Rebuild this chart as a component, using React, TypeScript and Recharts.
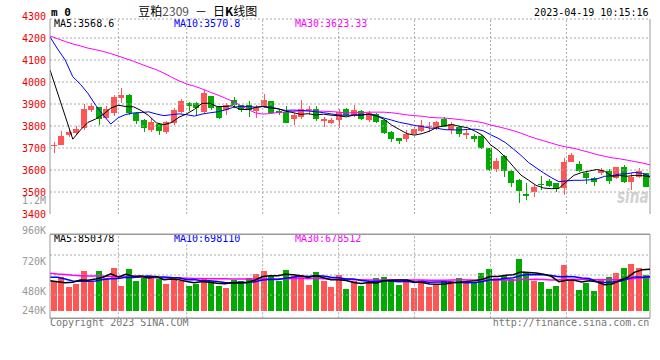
import React from 'react';
import { ComposedChart, Bar, Line, XAxis, YAxis, ReferenceLine } from 'recharts';

const DATES = [
  '12-20','12-21','12-22','12-23','12-26','12-27','12-28','12-29','12-30',
  '01-03','01-04','01-05','01-06','01-09','01-10','01-11','01-12','01-13',
  '01-16','01-17','01-18','01-19','01-20',
  '01-30','01-31','02-01','02-02','02-03',
  '02-06','02-07','02-08','02-09','02-10',
  '02-13','02-14','02-15','02-16','02-17',
  '02-20','02-21','02-22','02-23','02-24',
  '02-27','02-28','03-01','03-02','03-03',
  '03-06','03-07','03-08','03-09','03-10',
  '03-13','03-14','03-15','03-16','03-17',
  '03-20','03-21','03-22','03-23','03-24',
  '03-27','03-28','03-29','03-30','03-31',
  '04-03','04-04','04-06','04-07',
  '04-10','04-11','04-12','04-13','04-14',
  '04-17','04-18','04-19',
];

const OPEN = [
  3712, 3714, 3760, 3770, 3789, 3873, 3885, 3835, 3858, 3929,
  3941, 3861, 3827, 3782, 3809, 3774, 3812, 3865, 3903, 3906,
  3865, 3936, 3888, 3873, 3918, 3895, 3895, 3868, 3888, 3912,
  3870, 3865, 3832, 3842, 3874, 3876, 3823, 3814, 3827, 3876,
  3850, 3868, 3827, 3855, 3827, 3774, 3745, 3741, 3764, 3777,
  3797, 3789, 3830, 3782, 3797, 3759, 3755, 3755, 3699, 3605,
  3664, 3597, 3555, 3491, 3502, 3538, 3552, 3539, 3517, 3638,
  3627, 3588, 3562, 3585, 3595, 3562, 3615, 3547, 3570, 3585,
];
const HIGH = [
  3729, 3779, 3780, 3800, 3900, 3906, 3887, 3891, 3941, 3971,
  3944, 3864, 3830, 3835, 3812, 3821, 3883, 3921, 3911, 3908,
  3964, 3938, 3890, 3906, 3933, 3897, 3914, 3895, 3945, 3915,
  3873, 3891, 3858, 3918, 3893, 3891, 3842, 3836, 3876, 3880,
  3895, 3873, 3868, 3861, 3830, 3776, 3747, 3782, 3797, 3827,
  3820, 3823, 3842, 3820, 3800, 3782, 3764, 3760, 3702, 3653,
  3667, 3600, 3558, 3539, 3532, 3573, 3559, 3542, 3656, 3676,
  3642, 3592, 3567, 3611, 3603, 3615, 3623, 3585, 3608, 3588,
];
const LOW = [
  3679, 3712, 3752, 3759, 3782, 3865, 3805, 3830, 3845, 3903,
  3850, 3809, 3774, 3774, 3759, 3764, 3805, 3861, 3870, 3850,
  3861, 3873, 3830, 3850, 3888, 3862, 3842, 3838, 3883, 3858,
  3850, 3812, 3805, 3830, 3850, 3823, 3797, 3809, 3789, 3845,
  3842, 3827, 3817, 3815, 3764, 3729, 3718, 3729, 3759, 3771,
  3774, 3782, 3795, 3764, 3752, 3741, 3729, 3694, 3597, 3592,
  3570, 3524, 3449, 3464, 3479, 3509, 3524, 3502, 3486, 3635,
  3592, 3536, 3527, 3577, 3536, 3558, 3542, 3509, 3562, 3521,
];
const CLOSE = [
  3715, 3755, 3773, 3788, 3876, 3891, 3830, 3876, 3933, 3942,
  3861, 3824, 3792, 3818, 3777, 3818, 3873, 3915, 3892, 3880,
  3952, 3880, 3837, 3895, 3895, 3873, 3873, 3883, 3918, 3861,
  3861, 3815, 3850, 3876, 3878, 3832, 3833, 3827, 3865, 3850,
  3873, 3830, 3858, 3820, 3770, 3741, 3732, 3764, 3785, 3805,
  3800, 3820, 3797, 3809, 3764, 3770, 3741, 3699, 3600, 3641,
  3597, 3542, 3506, 3483, 3523, 3536, 3527, 3512, 3638, 3668,
  3597, 3562, 3547, 3600, 3552, 3612, 3547, 3567, 3595, 3524,
];

const MA5 = [
  4055, 3950, 3845, 3740, 3781.4, 3816.6, 3831.6, 3852.2, 3881.2, 3894.4,
  3888.4, 3887.2, 3870.4, 3847.4, 3814.4, 3805.8, 3815.6, 3840.2, 3855, 3875.6,
  3902.4, 3903.8, 3888.2, 3888.8, 3891.8, 3876, 3874.6, 3883.8, 3888.4, 3881.6,
  3879.2, 3867.6, 3861, 3852.6, 3856, 3850.2, 3853.8, 3849.2, 3847, 3841.4,
  3849.6, 3849, 3855.2, 3846.2, 3830.2, 3803.8, 3784.2, 3765.4, 3758.4, 3765.4,
  3777.2, 3794.8, 3801.4, 3806.2, 3798, 3792, 3776.2, 3756.6, 3714.8, 3690.2,
  3655.6, 3615.8, 3577.2, 3553.8, 3530.2, 3518, 3515, 3516.2, 3547.2, 3576.2,
  3588.4, 3595.4, 3602.4, 3594.8, 3571.6, 3574.6, 3571.6, 3575.6, 3574.6, 3568.6,
];
const MA10 = [
  4205, 4150, 4100, 4024, 3990, 3948, 3895, 3850, 3809, 3837.9,
  3852.5, 3859.4, 3861.3, 3864.3, 3854.4, 3847.1, 3851.4, 3855.3, 3851.2, 3845,
  3854.1, 3859.7, 3864.2, 3871.9, 3883.7, 3889.2, 3889.2, 3886, 3888.6, 3886.7,
  3877.6, 3871.1, 3872.4, 3870.5, 3868.8, 3864.7, 3860.7, 3855.1, 3849.8, 3848.7,
  3849.9, 3851.4, 3852.2, 3846.6, 3835.8, 3826.7, 3816.6, 3810.3, 3802.3, 3797.8,
  3790.5, 3789.5, 3783.4, 3782.3, 3781.7, 3784.6, 3785.5, 3779, 3760.5, 3744.1,
  3723.8, 3696, 3666.9, 3634.3, 3610.2, 3586.8, 3565.4, 3546.7, 3550.5, 3553.2,
  3553.2, 3555.2, 3559.3, 3571, 3573.9, 3581.5, 3583.5, 3589, 3584.7, 3570.8,
];
const MA30 = [
  4209, 4197, 4184, 4173, 4164, 4154, 4147, 4139, 4129, 4118,
  4106, 4094, 4081, 4068, 4056, 4040, 4022, 4005, 3991, 3981,
  3969, 3955, 3942, 3928, 3913, 3895, 3877, 3860, 3854, 3856.5,
  3861.4, 3863.4, 3866, 3868.9, 3869, 3867, 3867.1, 3865.5, 3863.2, 3860.1,
  3860.5, 3860.7, 3862.9, 3863, 3862.8, 3860.2, 3855.5, 3850.5, 3846.9, 3844.4,
  3839.3, 3837.3, 3836, 3833.1, 3828.8, 3825.3, 3820.9, 3814.8, 3804.2, 3796.9,
  3788.1, 3779, 3767.5, 3754.4, 3742.6, 3732.7, 3722.5, 3712, 3704.4, 3698.4,
  3689.2, 3680.2, 3669.9, 3662.5, 3655.3, 3651, 3644.8, 3638.2, 3631.9, 3623.33,
];

// volume in thousands (K)
const VOLUME = [
  601, 690, 492, 540, 820, 587, 820, 669, 881, 512,
  861, 615, 683, 683, 656, 540, 697, 601, 499, 540,
  649, 615, 499, 471, 635, 608, 676, 758, 820, 717,
  608, 840, 703, 724, 533, 799, 615, 492, 738, 451,
  601, 512, 587, 676, 697, 656, 533, 594, 471, 635,
  492, 526, 615, 601, 676, 587, 594, 779, 861, 676,
  717, 656, 1065, 799, 615, 594, 451, 512, 943, 615,
  430, 574, 410, 635, 697, 779, 881, 963, 881, 738,
];
const VMA5 = [
  615, 594, 574, 585, 628.6, 625.8, 651.8, 687.2, 755.4, 693.8,
  748.6, 707.6, 710.4, 670.8, 699.6, 635.4, 651.8, 635.4, 598.6, 575.4,
  597.2, 580.8, 560.4, 554.8, 573.8, 565.6, 577.8, 629.6, 699.4, 715.8,
  715.8, 748.6, 737.6, 718.4, 681.6, 719.8, 674.8, 632.6, 635.4, 619,
  579.4, 558.8, 577.8, 565.4, 614.6, 625.6, 629.8, 631.2, 590.2, 577.8,
  545, 543.6, 547.8, 573.8, 582, 601, 614.6, 647.4, 699.4, 699.4,
  725.4, 737.8, 795, 782.6, 770.4, 745.8, 704.8, 594.2, 623, 623,
  590.2, 614.8, 594.4, 532.8, 549.2, 619, 680.4, 791, 840.2, 850.378,
];
const VMA10 = [
  684, 684, 650, 610, 605, 603, 607, 640, 655, 661.2,
  687.2, 679.7, 698.8, 713.1, 696.7, 692, 679.7, 672.9, 634.7, 637.5,
  616.3, 616.3, 597.9, 576.7, 574.6, 581.4, 579.3, 595, 627.1, 644.8,
  640.7, 663.2, 683.6, 708.9, 698.7, 717.8, 711.7, 685.1, 676.9, 650.3,
  649.6, 616.8, 605.2, 600.4, 616.8, 602.5, 594.3, 604.5, 577.8, 596.2,
  585.3, 586.7, 589.5, 582, 579.9, 573, 579.1, 597.6, 636.6, 640.7,
  663.2, 676.2, 721.2, 741, 734.9, 735.6, 721.3, 694.6, 702.8, 696.7,
  668, 659.8, 594.3, 577.9, 586.1, 604.6, 647.6, 692.7, 686.5, 698.11,
];
const VMA30 = [
  766, 750, 740, 725, 717, 712, 710, 705, 700, 695,
  690, 687, 684, 680, 677, 674, 671, 668, 665, 662,
  660, 657, 655, 653, 651, 650, 649, 648, 648, 647.8,
  648.1, 653.1, 660.1, 666.2, 656.7, 663.7, 656.9, 651, 646.2, 644.2,
  635.5, 632.1, 628.9, 628.7, 630, 633.9, 628.4, 628.2, 627.3, 630.4,
  625.2, 622.2, 626.1, 630.4, 631.8, 631.1, 628.4, 629.1, 630.4, 629.1,
  632.7, 626.6, 638.6, 641.1, 643.9, 637, 631.6, 632.2, 639.1, 644.5,
  638.8, 640.9, 635, 633.6, 633.6, 637.7, 649.3, 661.6, 675.3, 678.512,
];

const DATE_TICKS = [0, 9, 18, 28, 38, 48, 58, 68, 77];
const GRID_X = [9, 18, 28, 38, 48, 58, 68];
const PRICE_TICKS = [3400, 3500, 3600, 3700, 3800, 3900, 4000, 4100, 4200, 4300];
const PRICE_GRID = [3500, 3600, 3700, 3800, 3900, 4000, 4100, 4200];
const VOL_LABEL_TICKS = [240, 480, 720, 960, 1200];
const VOL_GRID = [1141.6, 731.6, 321.6];

const PRICE_LEGEND = ['MA5:3568.6', 'MA10:3570.8', 'MA30:3623.33'];
const VOL_LEGEND = ['MA5:850378', 'MA10:698110', 'MA30:678512'];

// scale / layout constants
const PRICE_DOMAIN: [number, number] = [3400, 4286.4];
const VOL_DOMAIN: [number, number] = [-156, 1566];
const VOL_LABEL_DOMAIN: [number, number] = [265.4, 933];
const VOL_LABEL_FLOOR = 115.7;
const VOL_MARGIN = { top: 39.3, right: 10, bottom: 16.7 };

const MONO = '"DejaVu Sans Mono", monospace';
const CJK = '"Noto Sans CJK SC", sans-serif';
const UP = '#ff5555';
const DOWN = '#00aa00';
const AXIS = '#999999';
const GRID = '#aaaaaa';
const LEG_COLORS = ['#000000', '#0000ff', '#ff00ff'];
const LEG_X = [54, 174, 295];

const rows = DATES.map((d, i) => ({
  d, i,
  o: OPEN[i], h: HIGH[i], l: LOW[i], c: CLOSE[i],
  ma5: MA5[i], ma10: MA10[i], ma30: MA30[i],
  v: VOLUME[i], vma5: VMA5[i], vma10: VMA10[i], vma30: VMA30[i],
}));

const Candle = (p: any) => {
  const { x, y, width, height, payload } = p;
  const { o, h, l, c } = payload;
  const color = c >= o ? UP : DOWN;
  const k = h > l ? height / (h - l) : 0;
  const py = (v: number) => y + (h - v) * k;
  const left = Math.floor(x);
  const w = Math.round(width);
  const mid = left + Math.floor(w / 2) + 0.5;
  const top = Math.round(py(Math.max(o, c)));
  const bot = Math.round(py(Math.min(o, c)));
  return (
    <g>
      <line x1={mid} x2={mid} y1={Math.round(y)} y2={Math.round(y + height)} stroke={color} strokeWidth={1} />
      <rect x={left} y={top} width={w} height={Math.max(bot - top, 1)} fill={color} />
    </g>
  );
};

const VolBar = (p: any) => {
  const { x, y, width, height, payload } = p;
  const top = Math.round(y);
  const bot = Math.round(y + height);
  return (
    <rect x={Math.floor(x)} y={top} width={Math.round(width)} height={Math.max(bot - top, 0)}
      fill={payload.c >= payload.o ? UP : DOWN} />
  );
};

const fmtVol = (v: number) => (v >= 1000 ? `${v / 1000}M` : `${v}K`);

const VolTick = (p: any) => {
  const { x, y, payload } = p;
  if (!Number.isFinite(x) || !Number.isFinite(y) || !payload) return <g />;
  return (
    <text x={x} y={Math.min(y, VOL_LABEL_FLOOR)} dy="0.355em" textAnchor="end" fill="#999999"
      fontSize={10} fontFamily={MONO}>{fmtVol(payload.value)}</text>
  );
};

export default function App() {
  return (
    <div style={{ position: 'absolute', left: 0, top: 0, width: 660, height: 360, background: '#fff', overflow: 'hidden' }}>
      <svg width={660} height={360} style={{ position: 'absolute', left: 0, top: 0 }}>
        <text x={51} y={15.7} fontSize={11} fontWeight="bold" fontFamily={MONO} fill="#000">m 0</text>
        <text x={189} y={15.5} textAnchor="end" fontSize={12} fontFamily={CJK} fill="#000">
          豆粕<tspan fill="#555">2309</tspan>
        </text>
        <text x={201} y={15.5} textAnchor="middle" fontSize={12} fontFamily={CJK} fill="#000">－</text>
        <text x={213} y={15.5} fontSize={12} fontFamily={CJK} fill="#000">
          日<tspan fontWeight="bold">K</tspan>线图
        </text>
        <text x={648.5} y={16} textAnchor="end" fontSize={10} fontFamily={MONO} fill="#000">2023-04-19 10:15:16</text>
        {PRICE_LEGEND.map((t, k) => (
          <text key={t} x={LEG_X[k]} y={26.7} fontSize={10} fontFamily={MONO} fill={LEG_COLORS[k]}>{t}</text>
        ))}
        {VOL_LEGEND.map((t, k) => (
          <text key={t} x={LEG_X[k]} y={242} fontSize={10} fontFamily={MONO} fill={LEG_COLORS[k]}>{t}</text>
        ))}
        <text x={50} y={326} fontSize={10} fontFamily={MONO} fill="#777">Copyright 2023 SINA.COM</text>
        <text x={649.3} y={326} textAnchor="end" fontSize={10} fontFamily={MONO} fill="#777">http://finance.sina.com.cn</text>
        <g transform="translate(617,203) scale(0.68,1)">
          <text x={0} y={0} fontSize={20} fontStyle="italic" fontWeight="bold" fontFamily="DejaVu Sans"
            fill="#d2d2d2">sina</text>
        </g>
      </svg>

      {/* price panel */}
      <div style={{ position: 'absolute', left: 0, top: 0 }}>
        <ComposedChart width={660} height={240} data={rows} margin={{ top: 19, right: 10, bottom: 0, left: 0 }}>
          <XAxis xAxisId="cat" dataKey="d" type="category" hide />
          <XAxis xAxisId="num" dataKey="i" type="number" domain={[0, 79]} allowDataOverflow
            ticks={DATE_TICKS} interval={0} tickFormatter={(v: number) => DATES[v]}
            height={26} tickLine={false} tickSize={0} tickMargin={4}
            axisLine={{ stroke: AXIS, strokeWidth: 1.5 }}
            tick={{ fill: '#0078d0', fontSize: 10, fontFamily: MONO }} />
          <YAxis yAxisId="p" domain={PRICE_DOMAIN} allowDataOverflow ticks={PRICE_TICKS} interval={0}
            width={50} tickLine={false} tickSize={0} tickMargin={4} axisLine={{ stroke: AXIS }}
            tick={{ fill: '#ee0000', fontSize: 10, fontFamily: MONO }} />
          {PRICE_GRID.map((v) => (
            <ReferenceLine key={`py${v}`} xAxisId="num" yAxisId="p" y={v} stroke={GRID} strokeDasharray="2 2" />
          ))}
          <ReferenceLine xAxisId="num" yAxisId="p" y={PRICE_DOMAIN[1]} stroke={GRID} strokeDasharray="2 2" />
          {GRID_X.map((v) => (
            <ReferenceLine key={`px${v}`} xAxisId="num" yAxisId="p" x={v} stroke={GRID} strokeDasharray="2 2" />
          ))}
          <ReferenceLine xAxisId="num" yAxisId="p" x={79} stroke={AXIS} />
          <Bar xAxisId="cat" yAxisId="p" dataKey={(r: any) => [r.l, r.h]} barSize={6}
            shape={Candle} isAnimationActive={false} />
          <Line xAxisId="num" yAxisId="p" dataKey="ma30" stroke="#ff00ff" strokeWidth={1} dot={false} isAnimationActive={false} />
          <Line xAxisId="num" yAxisId="p" dataKey="ma10" stroke="#0000ff" strokeWidth={1} dot={false} isAnimationActive={false} />
          <Line xAxisId="num" yAxisId="p" dataKey="ma5" stroke="#000000" strokeWidth={1} dot={false} isAnimationActive={false} />
        </ComposedChart>
      </div>

      {/* volume panel: bars, averages, grid */}
      <div style={{ position: 'absolute', left: 0, top: 195, pointerEvents: 'none' }}>
        <ComposedChart width={660} height={140} data={rows} margin={{ ...VOL_MARGIN, left: 50 }}>
          <XAxis xAxisId="cat" dataKey="d" type="category" hide />
          <XAxis xAxisId="num" dataKey="i" type="number" domain={[0, 79]} allowDataOverflow hide />
          <YAxis yAxisId="v" domain={VOL_DOMAIN} allowDataOverflow hide />
          {VOL_GRID.map((v) => (
            <ReferenceLine key={`vy${v}`} xAxisId="num" yAxisId="v" y={v} stroke={GRID} strokeDasharray="2 2" />
          ))}
          {GRID_X.map((v) => (
            <ReferenceLine key={`vx${v}`} xAxisId="num" yAxisId="v" x={v} stroke={GRID} strokeDasharray="2 2" />
          ))}
          <ReferenceLine xAxisId="num" yAxisId="v" y={VOL_DOMAIN[1]} stroke={AXIS} strokeWidth={1.5} />
          <ReferenceLine xAxisId="num" yAxisId="v" y={VOL_DOMAIN[0]} stroke={AXIS} strokeWidth={1.5} />
          <ReferenceLine xAxisId="num" yAxisId="v" x={79} stroke={AXIS} />
          <Bar xAxisId="cat" yAxisId="v" dataKey="v" barSize={6} shape={VolBar} isAnimationActive={false} />
          <Line xAxisId="num" yAxisId="v" dataKey="vma30" stroke="#ff00ff" strokeWidth={1.5} dot={false} isAnimationActive={false} />
          <Line xAxisId="num" yAxisId="v" dataKey="vma10" stroke="#0000ff" strokeWidth={1.5} dot={false} isAnimationActive={false} />
          <Line xAxisId="num" yAxisId="v" dataKey="vma5" stroke="#000000" strokeWidth={1.5} dot={false} isAnimationActive={false} />
        </ComposedChart>
      </div>

      {/* volume label axis (Sina's label scale differs from the bar scale) */}
      <div style={{ position: 'absolute', left: 0, top: 195, pointerEvents: 'none' }}>
        <ComposedChart width={660} height={140} data={rows} margin={{ ...VOL_MARGIN, left: 0 }}>
          <XAxis xAxisId="num" dataKey="i" type="number" domain={[0, 79]} allowDataOverflow hide />
          <YAxis yAxisId="vl" domain={VOL_LABEL_DOMAIN} allowDataOverflow ticks={VOL_LABEL_TICKS} interval={0}
            width={50} tickLine={false} tickSize={0} tickMargin={4} axisLine={{ stroke: AXIS }}
            tick={<VolTick />} />
          <Line xAxisId="num" yAxisId="vl" dataKey="v" stroke="none" strokeOpacity={0} dot={false}
            activeDot={false} legendType="none" isAnimationActive={false} />
        </ComposedChart>
      </div>
    </div>
  );
}
